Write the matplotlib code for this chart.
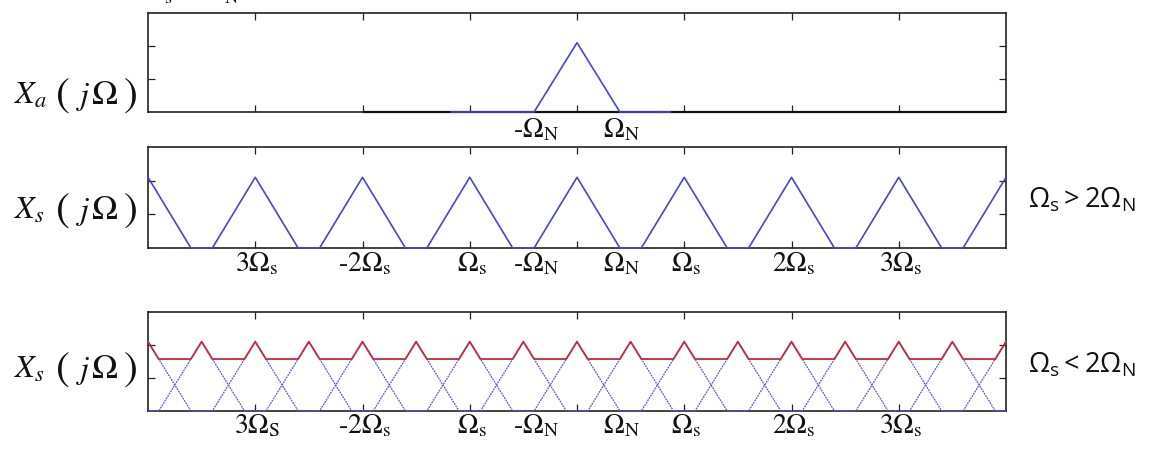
import numpy as np
import matplotlib
matplotlib.use("Agg")
import matplotlib.pyplot as plt
import matplotlib.transforms as mtrans

plt.rcParams['mathtext.fontset'] = 'custom'
plt.rcParams['mathtext.rm'] = 'Open Sans'
plt.rcParams['mathtext.it'] = 'Open Sans:italic'

# ---------------- data ----------------
peak_height = 2.1          # height of the spectrum triangle
half_width = 0.4           # Omega_N (triangle half base)

# panel 1: original spectrum X_a(jΩ)
top_x = [-1.17, -0.4, 0.0, 0.4, 0.87]
top_y = [0.0, 0.0, 2.1, 0.0, 0.0]

# panel 2: Ωs > 2ΩN  (copies every Ωs = 1)
mid_centers = [-4, -3, -2, -1, 0, 1, 2, 3, 4]

# panel 3: Ωs < 2ΩN  (copies every Ωs = 0.5)
bot_centers_even = [-4, -3, -2, -1, 0, 1, 2, 3, 4]
bot_centers_odd = [-3.5, -2.5, -1.5, -0.5, 0.5, 1.5, 2.5, 3.5]

x_ticks = [-3, -2, -1, 0, 1, 2, 3]
y_ticks = [1, 2]

top_labels = ["-$\\Omega_\\mathrm{N}$", "$\\Omega_\\mathrm{N}$"]
top_label_pos = [-0.4, 0.4]

mid_labels = ["$3\\Omega_\\mathrm{s}$", "-$2\\Omega_\\mathrm{s}$", "$\\Omega_\\mathrm{s}$",
              "-$\\Omega_\\mathrm{N}$", "$\\Omega_\\mathrm{N}$", "$\\Omega_\\mathrm{s}$",
              "$2\\Omega_\\mathrm{s}$", "$3\\Omega_\\mathrm{s}$"]
bot_labels = ["$3\\Omega_\\mathrm{S}$", "-$2\\Omega_\\mathrm{s}$", "$\\Omega_\\mathrm{s}$",
              "-$\\Omega_\\mathrm{N}$", "$\\Omega_\\mathrm{N}$", "$\\Omega_\\mathrm{s}$",
              "$2\\Omega_\\mathrm{s}$", "$3\\Omega_\\mathrm{s}$"]
label_pos = [-3, -2, -1, -0.4, 0.4, 1, 2, 3]

left_symbols = [r"$X_a$", r"$X_s$", r"$X_s$"]
right_titles = [r"$\Omega_\mathrm{s}\,\!>\!\,2\Omega_\mathrm{N}$",
                r"$\Omega_\mathrm{s}\,\!<\!\,2\Omega_\mathrm{N}$"]

XMIN, XMAX = -4, 4
BLUE = '#4646d2'
BLUE_LIGHT = '#5858dc'
RED = '#c8283c'


def triangle_train(centers):
    xs, ys = [XMIN - 1], [0.0]
    for c in centers:
        xs += [c - half_width, c, c + half_width]
        ys += [0.0, peak_height, 0.0]
    xs.append(XMAX + 1)
    ys.append(0.0)
    xs, ys = np.array(xs), np.array(ys)
    keep = (xs > XMIN) & (xs < XMAX)
    gx = np.concatenate([[XMIN], xs[keep], [XMAX]])
    gy = np.interp(gx, xs, ys)
    return gx, gy


W, H = 1153, 452
fig = plt.figure(figsize=(W / 100, H / 100), dpi=100)


def make_ax(top_px, bottom_px):
    ax = fig.add_axes([148 / W, (H - bottom_px) / H, 858 / W, (bottom_px - top_px) / H])
    ax.set_xlim(XMIN, XMAX)
    ax.set_ylim(0, 3)
    ax.set_xticks(x_ticks)
    ax.set_yticks(y_ticks)
    ax.tick_params(direction='in', length=5, width=0.9, top=True, right=True,
                   labelbottom=False, labelleft=False, color='#222222')
    for s in ax.spines.values():
        s.set_linewidth(1.2)
        s.set_color('#222222')
    return ax


def add_labels(ax, labels, positions, drop_px):
    trans = mtrans.blended_transform_factory(ax.transData, ax.transAxes)
    trans = mtrans.offset_copy(trans, fig=fig, x=2, y=-drop_px, units='dots')
    for s, p in zip(labels, positions):
        ax.text(p, 0, s, transform=trans, ha='center', va='baseline',
                fontsize=20, math_fontfamily='stix', family='STIXGeneral',
                color='#111111')


# ---- panel 1 ----
ax1 = make_ax(14, 113)
ax1.plot([-2, 4], [0, 0], color='#111111', lw=1.6, solid_capstyle='butt', zorder=3,
         clip_on=False)
ax1.plot(top_x, top_y, color=BLUE, lw=1.2, zorder=4, clip_on=False)
add_labels(ax1, top_labels, top_label_pos, 24)

# ---- panel 2 ----
ax2 = make_ax(148, 249)
mx, my = triangle_train(mid_centers)
ax2.plot(mx, my, color=BLUE, lw=1.2, zorder=4, clip_on=False)
add_labels(ax2, mid_labels, label_pos, 22)

# ---- panel 3 ----
ax3 = make_ax(313, 412)
ex, ey = triangle_train(bot_centers_even)
ox, oy = triangle_train(bot_centers_odd)
ax3.plot(ex, ey, color=BLUE_LIGHT, lw=0.9, ls=(0, (1.5, 0.7)), zorder=3, clip_on=False)
ax3.plot(ox, oy, color=BLUE_LIGHT, lw=0.9, ls=(0, (1.5, 0.7)), zorder=3, clip_on=False)
grid = np.union1d(ex, ox)
sum_y = np.interp(grid, ex, ey) + np.interp(grid, ox, oy)
ax3.plot(grid, sum_y, color=RED, lw=1.3, zorder=4, clip_on=False)
add_labels(ax3, bot_labels, label_pos, 21)


# ---- left titles  X(jΩ), built from pieces so the parentheses are tall ----
def fig_txt(xpx, base_px, s, **kw):
    fig.text(xpx / W, (H - base_px) / H, s, va='baseline', color='#111111', **kw)


for sym, base in zip(left_symbols, [104, 219, 378]):
    fig_txt(14, base, sym, ha='left', fontsize=23, math_fontfamily='stix')
    fig_txt(56, base + 3, '(', ha='left', fontsize=30, family='STIXGeneral')
    fig_txt(76, base, r'$j$', ha='left', fontsize=23, math_fontfamily='stix')
    fig_txt(104, base, r'$\Omega$', ha='center', fontsize=25, math_fontfamily='stix')
    fig_txt(124, base + 3, ')', ha='left', fontsize=30, family='STIXGeneral')

# ---- right titles ----
for s, base in zip(right_titles, [208, 373]):
    fig_txt(1028, base, s, ha='left', fontsize=19.5, math_fontfamily='custom')

# clipped remnant text at the very top (cut off in the reference too)
fig_txt(168, 3, 's', ha='center', fontsize=13, family='STIXGeneral')
fig_txt(231, 3, 'N', ha='center', fontsize=13, family='STIXGeneral')

fig.savefig('out.png', dpi=100)
